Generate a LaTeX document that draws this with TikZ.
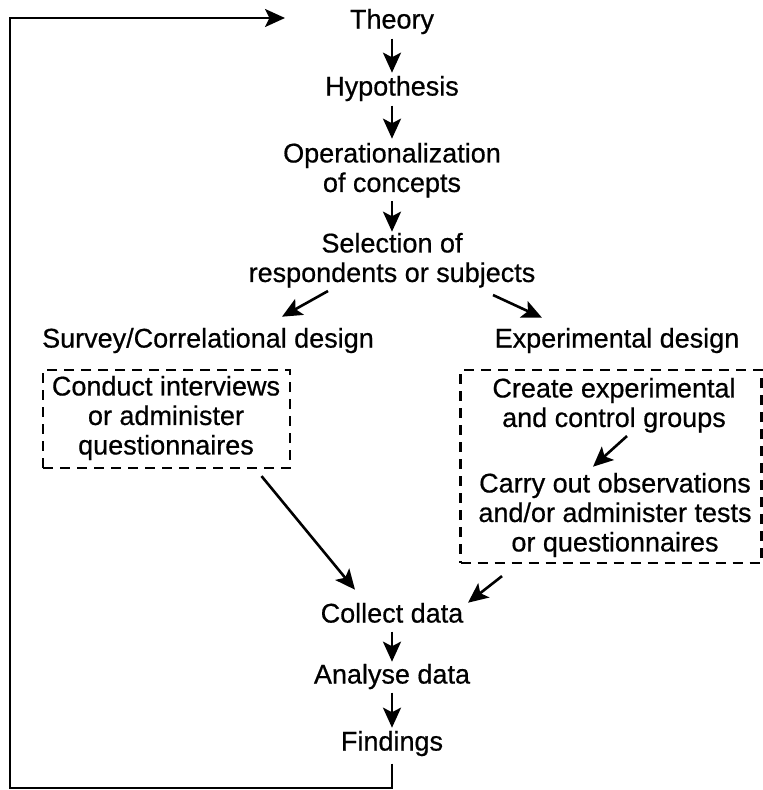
\documentclass[tikz,border=0pt]{standalone}
\usepackage{fontspec}
\setmainfont{Liberation Sans}[FakeBold=0.6]
\usetikzlibrary{arrows.meta,calc}
\begin{document}
\begin{tikzpicture}[x=1pt,y=-1pt,
  txt/.style={anchor=north, inner sep=0pt, align=center,
    font=\fontsize{27}{29.5}\selectfont,
    execute at begin node=\strut, execute at end node=\strut},
  arr/.style={-{Stealth[length=20pt,width=18pt,inset=4.5pt]}, line width=2.6pt},
  dbox/.style={draw, line width=2.2pt, dash pattern=on 10pt off 7pt, inner sep=0pt}]
\useasboundingbox (0,0) rectangle (763,790);

% main column
\node[txt] (theory)   at (392,7.7)   {Theory};
\node[txt] (hyp)      at (392,74.7)  {Hypothesis};
\node[txt] (oper)     at (392,142.7) {Operationalization\\of concepts};
\node[txt] (sel)      at (392,232.7) {Selection of\\respondents or subjects};
\node[txt] (survey)   at (208,326.7) {Survey/Correlational design};
\node[txt] (exper)    at (617,326.7) {Experimental design};

% boxes
\node[dbox, minimum width=247pt, minimum height=98pt] (lbox) at (166.5,419) {};
\node[dbox, minimum width=301pt, minimum height=193pt] (rbox) at (611,466.5) {};

\node[txt] (conduct)  at (166,375.7) {Conduct interviews\\or administer\\questionnaires};
\node[txt] (create)   at (614,377.7) {Create experimental\\and control groups};
\node[txt] (carry)    at (615,472.7) {Carry out observations\\and/or administer tests\\or questionnaires};

\node[txt] (collect)  at (392,601.7) {Collect data};
\node[txt] (analyse)  at (392,662.7) {Analyse data};
\node[txt] (findings) at (392,729.7) {Findings};

% vertical arrows
\draw[arr, shorten >=2pt, shorten <=1pt] (theory) -- (hyp);
\draw[arr, shorten >=4pt, shorten <=1pt] (hyp) -- (oper);
\draw[arr, shorten >=1pt] (oper) -- (sel);
\draw[arr, shorten >=1pt] (collect) -- (analyse);
\draw[arr, shorten >=2pt] (analyse) -- (findings);

% diagonal arrows
\draw[arr] ($(sel.south)+(-64,0)$) -- ($(survey.north)+(74,-10)$);
\draw[arr] ($(sel.south)+(101,4)$) -- ($(exper.north)+(-75,-9)$);
\draw[arr] ($(create.south)+(13,0)$) -- ($(carry.north)+(-22,-6)$);
\draw[arr] ($(lbox.south)+(95,7)$) -- ($(collect.north)+(-37,-12)$);
\draw[arr] ($(rbox.south)+(-109,12)$) -- ($(collect.north)+(76,1)$);

% feedback loop
\coordinate (loopL) at (10,788);
\coordinate (loopT) at (10,18);
\coordinate (loopE) at (285,18);
\draw[arr] ($(findings.south)+(0,4)$) |- (loopL) -- (loopT) -- (loopE);
\end{tikzpicture}
\end{document}
